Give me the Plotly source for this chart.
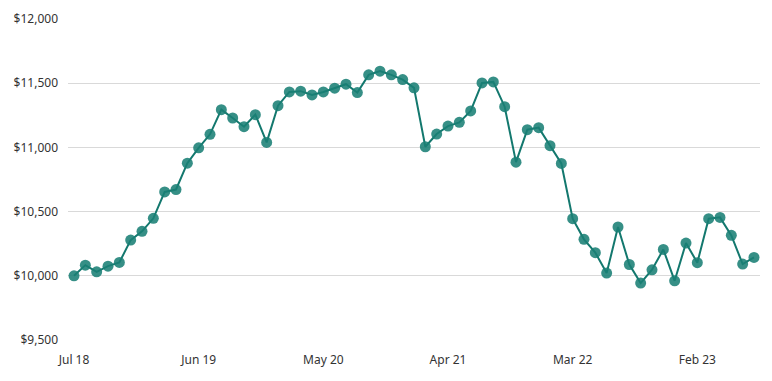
import plotly.graph_objects as go

months = ["Jul 18","Aug 18","Sep 18","Oct 18","Nov 18","Dec 18","Jan 19","Feb 19","Mar 19","Apr 19","May 19","Jun 19",
          "Jul 19","Aug 19","Sep 19","Oct 19","Nov 19","Dec 19","Jan 20","Feb 20","Mar 20","Apr 20","May 20",
          "Jun 20","Jul 20","Aug 20","Sep 20","Oct 20","Nov 20","Dec 20","Jan 21","Feb 21","Mar 21","Apr 21",
          "May 21","Jun 21","Jul 21","Aug 21","Sep 21","Oct 21","Nov 21","Dec 21","Jan 22","Feb 22","Mar 22",
          "Apr 22","May 22","Jun 22","Jul 22","Aug 22","Sep 22","Oct 22","Nov 22","Dec 22","Jan 23","Feb 23",
          "Mar 23","Apr 23","May 23","Jun 23","Jul 23"]
values = [10000,10083,10031,10075,10104,10278,10346,10448,10653,10672,10877,10997,
          11102,11294,11229,11161,11255,11039,11325,11432,11438,11409,11432,
          11461,11492,11427,11565,11594,11565,11528,11464,11005,11104,11166,
          11195,11284,11502,11510,11317,10885,11138,11154,11013,10875,10445,
          10284,10180,10021,10380,10088,9943,10047,10205,9961,10255,10102,
          10445,10455,10315,10091,10143]
tick_labels = ["Jul 18","Jun 19","May 20","Apr 21","Mar 22","Feb 23"]
y_ticks = [9500,10000,10500,11000,11500,12000]

x = list(range(len(months)))
fig = go.Figure(go.Scatter(
    x=x, y=values, mode="lines+markers",
    line=dict(color="#13786e", width=2),
    marker=dict(size=11, color="rgba(26,128,117,0.88)", line=dict(width=0)),
    text=months, hovertemplate="%{text}: $%{y:,.0f}<extra></extra>",
))
fig.update_layout(
    width=772, height=381,
    margin=dict(l=68, r=12, t=19, b=41, autoexpand=False),
    paper_bgcolor="white", plot_bgcolor="white",
    showlegend=False,
    font=dict(family="Noto Sans, sans-serif", size=12, color="#333"),
    xaxis=dict(
        range=[-0.53, 60.53], tickmode="array", automargin=False,
        tickvals=[months.index(t) for t in tick_labels], ticktext=tick_labels,
        showgrid=False, zeroline=False, showline=False, ticks="", ticklabelstandoff=11,
    ),
    yaxis=dict(
        range=[9500, 12000], tickmode="array", tickvals=y_ticks, automargin=False,
        ticktext=[f"${v:,}" for v in y_ticks],
        showgrid=True, gridcolor="#d9d9d9", gridwidth=1, zeroline=False,
        showline=False, ticks="", ticklabelstandoff=9,
    ),
)
fig.write_html("out.html", config={"displayModeBar": False},
               post_script="document.body.style.margin='0';")
